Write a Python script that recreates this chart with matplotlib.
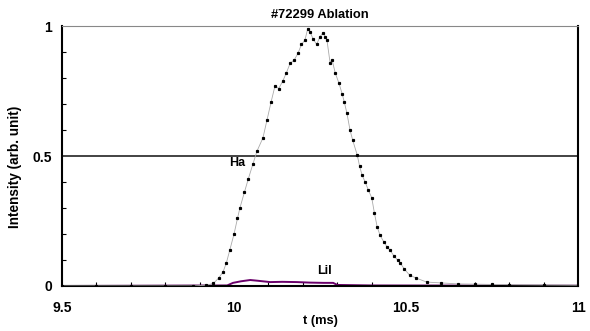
import numpy as np
import matplotlib.pyplot as plt
from matplotlib.ticker import MultipleLocator

plt.rcParams['font.family'] = ['Liberation Sans', 'DejaVu Sans']

# H-alpha signal
t_ha = [9.50, 9.60, 9.70, 9.80, 9.88, 9.92, 9.94, 9.955, 9.968, 9.978, 9.988,
        10.0, 10.01, 10.017, 10.03, 10.041, 10.055, 10.067, 10.084, 10.096,
        10.108, 10.119, 10.13, 10.142, 10.152, 10.163, 10.175, 10.186, 10.196,
        10.206, 10.214, 10.221, 10.23, 10.24, 10.25, 10.259, 10.265, 10.27,
        10.279, 10.285, 10.294, 10.305, 10.314, 10.32, 10.328, 10.337, 10.345,
        10.358, 10.365, 10.372, 10.381, 10.39, 10.40, 10.408, 10.416, 10.424,
        10.435, 10.445, 10.453, 10.465, 10.475, 10.483, 10.495, 10.51, 10.53,
        10.56, 10.60, 10.65, 10.70, 10.75, 10.80, 10.90, 11.0]
i_ha = [0.0, 0.0, 0.0, 0.0, 0.0, 0.003, 0.01, 0.03, 0.054, 0.09, 0.14,
        0.2, 0.26, 0.30, 0.36, 0.41, 0.47, 0.52, 0.57, 0.64,
        0.71, 0.77, 0.76, 0.79, 0.82, 0.857, 0.87, 0.896, 0.93,
        0.946, 0.99, 0.977, 0.95, 0.93, 0.96, 0.975, 0.96, 0.946,
        0.86, 0.87, 0.82, 0.78, 0.74, 0.71, 0.665, 0.60, 0.56,
        0.504, 0.46, 0.427, 0.40, 0.37, 0.34, 0.28, 0.227, 0.196,
        0.17, 0.15, 0.138, 0.115, 0.10, 0.088, 0.065, 0.042, 0.03,
        0.015, 0.012, 0.008, 0.007, 0.006, 0.005, 0.004, 0.003]

# Li I signal
t_li = [9.50, 9.98, 9.997, 10.02, 10.047, 10.07, 10.105, 10.14, 10.183,
        10.22, 10.26, 10.288, 10.30, 10.40, 11.0]
i_li = [0.0, 0.002, 0.012, 0.018, 0.023, 0.02, 0.015, 0.016, 0.015,
        0.013, 0.012, 0.012, 0.004, 0.002, 0.001]

fig = plt.figure(figsize=(5.9, 3.31), dpi=100)
ax = fig.add_axes([0.105, 0.136, 0.875, 0.785])

ax.axhline(0.5, color='#222222', lw=1.2, zorder=1)
ax.axhline(1.0, color='#888888', lw=1.2, zorder=1)

ax.plot(t_li, i_li, color='#6a006a', lw=1.4, zorder=2)
ax.plot(t_ha, i_ha, color='#aaaaaa', lw=0.6, marker='s', ms=1.3,
        mfc='black', mec='black', zorder=3)

ax.text(10.009, 0.497, 'Ha', fontsize=9, fontweight='bold',
        ha='center', va='top')
ax.text(10.262, 0.033, 'LiI', fontsize=9, fontweight='bold',
        ha='center', va='bottom')

ax.set_xlim(9.5, 11)
ax.set_ylim(0, 1)
ax.set_xticks([9.5, 10, 10.5, 11])
ax.set_xticklabels(['9.5', '10', '10.5', '11'])
ax.set_yticks([0, 0.5, 1])
ax.set_yticklabels(['0', '0.5', '1'])
ax.xaxis.set_minor_locator(MultipleLocator(0.1))
ax.yaxis.set_minor_locator(MultipleLocator(0.1))
ax.tick_params(which='major', length=0, labelsize=10, pad=7)
ax.tick_params(axis='x', which='major', pad=11)
ax.tick_params(which='minor', direction='in', length=3, width=0.8)
for lab in ax.get_xticklabels() + ax.get_yticklabels():
    lab.set_fontweight('bold')

for s in ['left', 'bottom', 'right']:
    ax.spines[s].set_linewidth(1.5)
ax.spines['top'].set_color('#888888')

ax.set_title('#72299 Ablation', fontsize=9.3, fontweight='bold', pad=6)
ax.set_xlabel('t (ms)', fontsize=9.3, fontweight='bold', labelpad=0)
ax.set_ylabel('Intensity (arb. unit)', fontsize=9.8, fontweight='bold')
ax.yaxis.set_label_coords(-0.078, 0.46)

fig.savefig('out.png', dpi=100)
